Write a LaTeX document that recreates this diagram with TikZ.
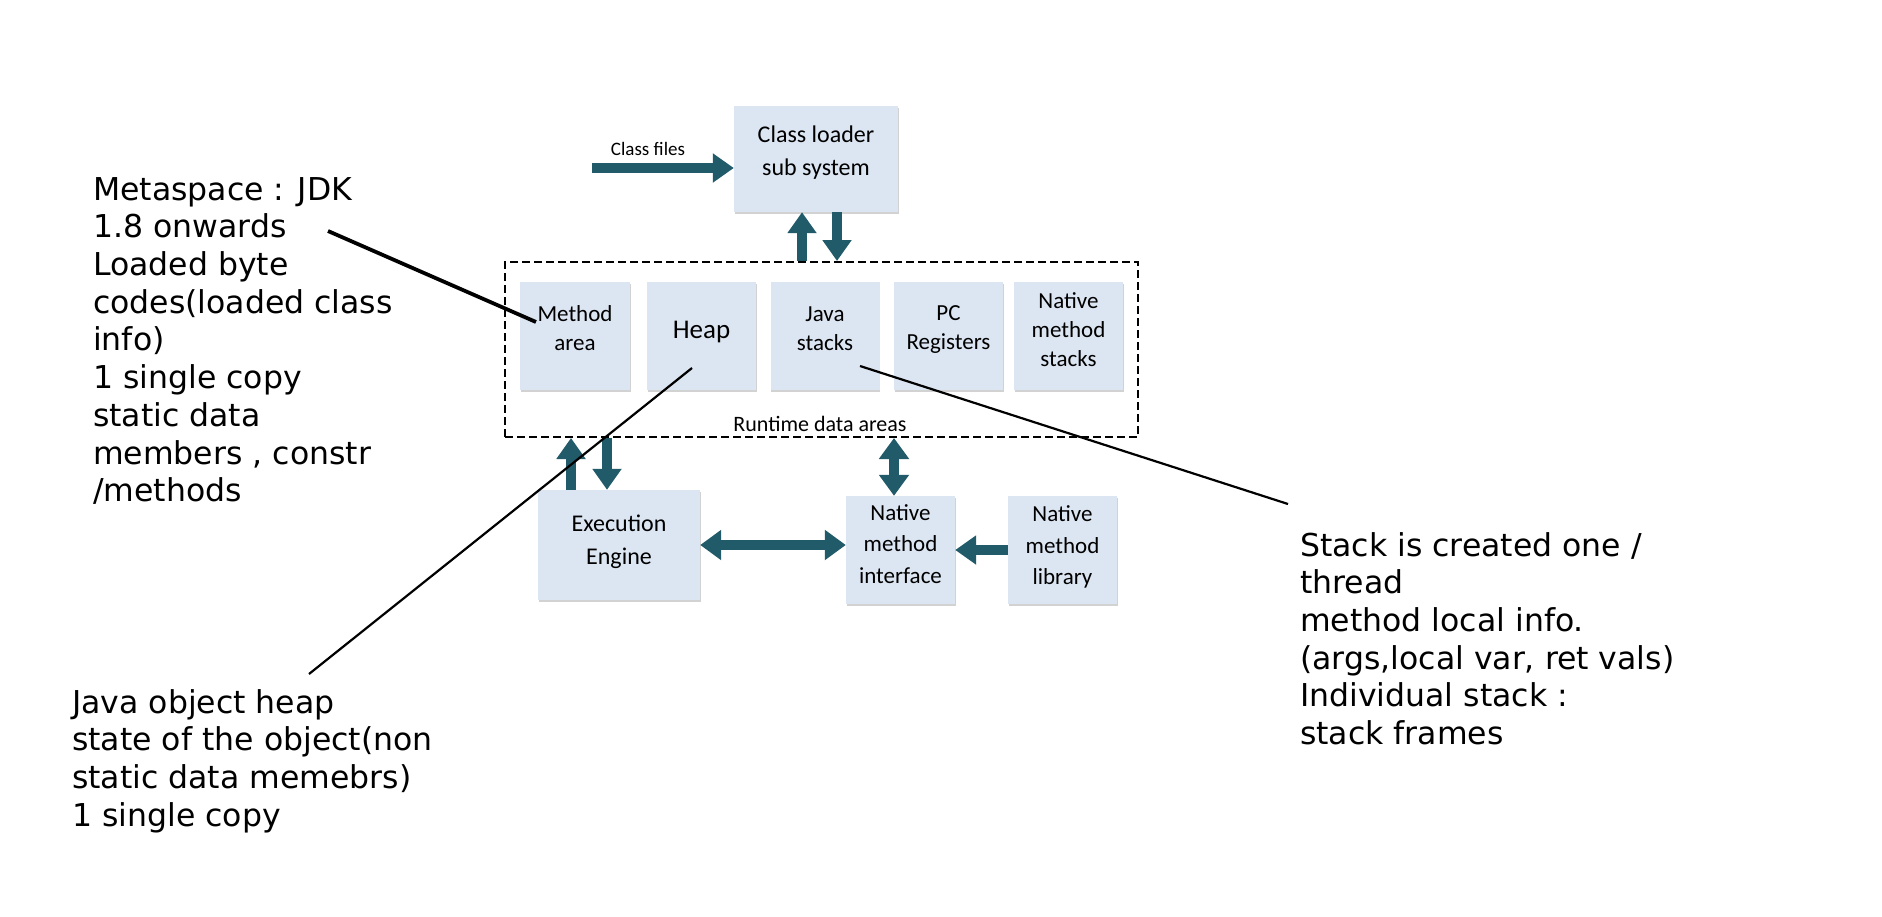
\documentclass[tikz,border=0pt]{standalone}
\usepackage{fontspec}
\setmainfont{DejaVu Sans}
\newfontfamily\boxfont{Carlito}
\usetikzlibrary{arrows.meta,shadows}
\definecolor{boxfill}{HTML}{DCE6F2}
\definecolor{arrowcol}{HTML}{215A69}
\begin{document}
\begin{tikzpicture}[x=1pt,y=-1pt,
  box/.style={fill=boxfill, draw=none, inner sep=0pt, align=center,
    drop shadow={shadow xshift=0.8pt,shadow yshift=-1.8pt,opacity=0.35,fill=gray},
    font=\boxfont\fontsize{23}{29}\selectfont, minimum width=109pt, minimum height=108pt},
  bigbox/.style={box, font=\boxfont\fontsize{24}{33}\selectfont},
  lowbox/.style={box, font=\boxfont\fontsize{23}{31.5}\selectfont},
  lift/.style={text depth=#1},
  blk/.style={draw=arrowcol, line width=10pt, -{Triangle[length=21pt,width=28pt]}},
  dblk/.style={draw=arrowcol, line width=10pt, {Triangle[length=21pt,width=29pt]}-{Triangle[length=21pt,width=29pt]}},
  note/.style={anchor=north west, inner sep=0pt, align=left, font=\fontsize{31.5}{37.7}\selectfont},
  pointer/.style={draw=black, line width=2.2pt}
]
\useasboundingbox (0,0) rectangle (1882,916);
\fill[white] (0,0) rectangle (1882,916);

% frame of runtime data areas
\node[draw=black, dashed, dash pattern=on 8pt off 4pt, line width=2pt, minimum width=633pt, minimum height=175pt, inner sep=0pt] (rt) at (821.5,349.5) {};
\node[font=\boxfont\fontsize{22}{26}\selectfont, inner sep=0pt] (rtl) at (820,424) {Runtime data areas};

% boxes
\node[bigbox, lift=17pt, minimum width=164pt, minimum height=106pt] (cl) at (816,159) {Class loader\\sub system};
\node[box, lift=16pt, minimum width=110pt] (ma) at (575,336) {Method\\area};
\node[box, lift=12.5pt, font=\boxfont\fontsize{27}{31}\selectfont] (heap) at (701.5,336) {Heap};
\node[box, lift=14pt] (js) at (825,336) {Java\\stacks};
\node[box, lift=17pt] (pc) at (948.5,336) {PC\\Registers};
\node[box, lift=12pt] (nms) at (1068.5,336) {Native\\method\\stacks};
\node[bigbox, lift=11pt, minimum width=162pt, minimum height=110pt] (ee) at (619,545) {Execution\\Engine};
\node[lowbox, lift=12pt] (nmi) at (900.5,550) {Native\\method\\interface};
\node[lowbox, lift=9pt] (nml) at (1062.5,550) {Native\\method\\library};

% class files input
\coordinate (cf) at (592,168);
\node[font=\boxfont\fontsize{19}{23}\selectfont, inner sep=0pt] (cfl) at (648,149) {Class files};
\draw[blk] (cf) -- (cf -| cl.west);

% vertical arrows
\coordinate (x1) at (802,0);
\coordinate (x2) at (837,0);
\coordinate (x3) at (571,0);
\coordinate (x4) at (607,0);
\coordinate (x5) at (894,0);
\draw[blk] (x1 |- rt.north) -- (x1 |- cl.south);
\draw[blk] (x2 |- cl.south) -- (x2 |- rt.north);
\draw[blk] (x3 |- ee.north) -- (x3 |- rt.south);
\draw[blk] (x4 |- rt.south) -- (x4 |- ee.north);
\draw[dblk] (x5 |- rt.south) -- (x5 |- nmi.north);

% horizontal arrows
\draw[dblk] (ee.east) -- (ee.east -| nmi.west);
\draw[blk] (nml.west) -- (nml.west -| nmi.east);

% notes
\node[note] (meta) at (93,177) {Metaspace : JDK\\1.8 onwards\\Loaded byte\\codes(loaded class\\info)\\1 single copy\\static data\\members , constr\\/methods};
\node[note] (heapnote) at (72,689) {Java object heap\\state of the object(non\\static data memebrs)\\1 single copy};
\node[note] (stacknote) at (1300,532) {Stack is created one /\\thread\\method local info.\\(args,local var, ret vals)\\Individual stack :\\stack frames};

% pointer lines
\coordinate (m1) at (328,231);
\coordinate (m2) at (536,322);
\coordinate (h1) at (692,368);
\coordinate (h2) at (309,674);
\coordinate (s1) at (860,366);
\coordinate (s2) at (1288,504);
\draw[pointer, line width=3.8pt] (m1) -- (m2);
\draw[pointer] (h1) -- (h2);
\draw[pointer] (s1) -- (s2);
\end{tikzpicture}
\end{document}
